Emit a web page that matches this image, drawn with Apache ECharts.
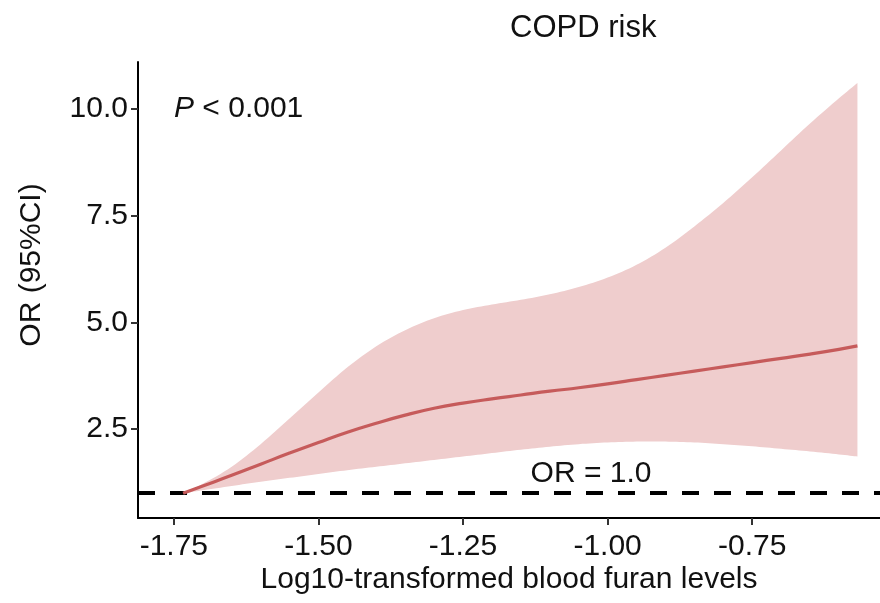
<!DOCTYPE html>
<html>
<head>
<meta charset="utf-8">
<script src="https://cdn.jsdelivr.net/npm/echarts@6/dist/echarts.min.js"></script>
<style>
html,body{margin:0;padding:0;background:#fff;}
#chart{width:880px;height:603px;}
</style>
</head>
<body>
<div id="chart"></div>
<script>
// ---- data ----
const xValues = [-1.734, -1.70, -1.65, -1.60, -1.55, -1.50, -1.45, -1.40, -1.35, -1.30, -1.25, -1.20, -1.15, -1.10, -1.05, -1.00, -0.95, -0.90, -0.85, -0.80, -0.75, -0.70, -0.65, -0.60, -0.568];
const orEstimate = [1.00, 1.17, 1.42, 1.68, 1.94, 2.19, 2.43, 2.64, 2.83, 2.99, 3.11, 3.21, 3.30, 3.39, 3.47, 3.56, 3.66, 3.76, 3.86, 3.96, 4.06, 4.16, 4.26, 4.37, 4.45];
const ciUpper = [1.00, 1.22, 1.62, 2.15, 2.75, 3.36, 3.95, 4.44, 4.82, 5.10, 5.29, 5.42, 5.53, 5.66, 5.83, 6.05, 6.35, 6.75, 7.25, 7.80, 8.40, 9.03, 9.66, 10.25, 10.61];
const ciLower = [1.00, 1.07, 1.17, 1.27, 1.36, 1.45, 1.54, 1.62, 1.70, 1.78, 1.86, 1.94, 2.02, 2.09, 2.15, 2.19, 2.21, 2.21, 2.19, 2.15, 2.10, 2.04, 1.98, 1.91, 1.86];
const xTicks = [-1.75, -1.50, -1.25, -1.00, -0.75];
const yTicks = [2.5, 5.0, 7.5, 10.0];
const refOR = 1.0;

const FONT = '"Liberation Sans", Arial, Helvetica, sans-serif';
const TXT = '#111111';

const chart = echarts.init(document.getElementById('chart'), null, {renderer: 'canvas'});

const bandData = xValues.map((x, i) => [x, ciLower[i], ciUpper[i]]);
const lineData = xValues.map((x, i) => [x, orEstimate[i]]);

// Catmull-Rom rendering of a pixel polyline (drawing only, data unchanged)
function smoothPixels(p) {
  const out = [];
  const n = p.length;
  const S = 8;
  for (let i = 0; i < n - 1; i++) {
    const p0 = p[Math.max(i - 1, 0)], p1 = p[i], p2 = p[i + 1], p3 = p[Math.min(i + 2, n - 1)];
    for (let s = 0; s < S; s++) {
      const t = s / S, t2 = t * t, t3 = t2 * t;
      const f = k => 0.5 * ((2 * p1[k]) + (-p0[k] + p2[k]) * t + (2 * p0[k] - 5 * p1[k] + 4 * p2[k] - p3[k]) * t2 + (-p0[k] + 3 * p1[k] - 3 * p2[k] + p3[k]) * t3);
      out.push([f(0), f(1)]);
    }
  }
  out.push(p[n - 1]);
  return out;
}

const option = {
  animation: false,
  backgroundColor: '#ffffff',
  grid: {left: 138, right: 0, top: 62, bottom: 85, containLabel: false},
  xAxis: {
    type: 'value',
    min: -1.812,
    max: -0.529,
    axisLine: {show: true, onZero: false, lineStyle: {color: '#000', width: 2}},
    axisTick: {show: true, customValues: xTicks, length: 7, lineStyle: {color: '#333', width: 2}},
    axisLabel: {show: true, customValues: xTicks, margin: 14, color: TXT, fontSize: 30, fontFamily: FONT,
      formatter: v => v.toFixed(2)},
    splitLine: {show: false}
  },
  yAxis: {
    type: 'value',
    min: 0.42,
    max: 11.1,
    axisLine: {show: true, onZero: false, lineStyle: {color: '#000', width: 2}},
    axisTick: {show: true, customValues: yTicks, length: 7, lineStyle: {color: '#333', width: 2}},
    axisLabel: {show: true, customValues: yTicks, margin: 10, color: TXT, fontSize: 30, fontFamily: FONT,
      formatter: v => v.toFixed(1)},
    splitLine: {show: false}
  },
  graphic: [
    {type: 'text', left: 510, top: 13, style: {text: 'COPD risk', font: '31px ' + FONT, fill: TXT, textAlign: 'center'}},
    {type: 'text', x: 32, y: 265, rotation: Math.PI / 2,
      style: {text: 'OR (95%CI)', font: '30px ' + FONT, fill: TXT, textAlign: 'center', textVerticalAlign: 'middle'}},
    {type: 'text', x: 509, y: 580, style: {text: 'Log10-transformed blood furan levels', font: '30px ' + FONT, fill: TXT, textAlign: 'center', textVerticalAlign: 'middle'}},
    {type: 'text', x: 591, y: 474, style: {text: 'OR = 1.0', font: '30px ' + FONT, fill: TXT, textAlign: 'center', textVerticalAlign: 'middle'}},
    {type: 'text', x: 174, y: 109, style: {
      text: '{i|P} < 0.001',
      font: '30px ' + FONT, fill: TXT, textVerticalAlign: 'middle',
      rich: {i: {fontStyle: 'italic', fontSize: 30, fontFamily: FONT, fill: TXT}}
    }}
  ],
  series: [
    {
      type: 'custom',
      name: 'CI',
      data: bandData,
      encode: {x: 0, y: [1, 2]},
      z: 1,
      renderItem: function (params, api) {
        if (params.dataIndex !== 0) return null;
        const up = bandData.map(d => api.coord([d[0], d[2]]));
        const lo = bandData.map(d => api.coord([d[0], d[1]]));
        const pts = smoothPixels(up).concat(smoothPixels(lo).reverse());
        return {type: 'polygon', shape: {points: pts}, style: {fill: '#efcdcd', stroke: null}};
      }
    },
    {
      type: 'line',
      name: 'OR',
      data: lineData,
      smooth: true,
      symbol: 'none',
      z: 3,
      lineStyle: {color: '#c65b5b', width: 3.2},
      markLine: {
        silent: true,
        symbol: ['none', 'none'],
        label: {show: false},
        lineStyle: {color: '#000', width: 4, type: [17, 15]},
        data: [{yAxis: refOR}],
        z: 2
      }
    }
  ]
};
chart.setOption(option);
</script>
</body>
</html>
